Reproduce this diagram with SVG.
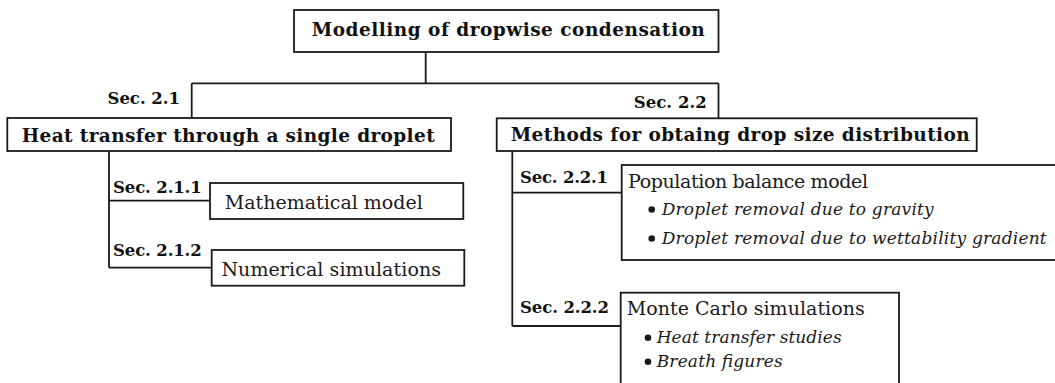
<svg xmlns="http://www.w3.org/2000/svg" width="1055" height="383" viewBox="0 0 1055 383">
<style>
.box{fill:#fff;stroke:#1a1a1a;stroke-width:1.8}
.ln{fill:none;stroke:#1a1a1a;stroke-width:1.8}
.hd{font-family:"DejaVu Serif",serif;font-weight:bold;font-size:18.5px;fill:#111}
.sec{font-family:"DejaVu Serif",serif;font-weight:bold;font-size:16.5px;fill:#111}
.rg{font-family:"DejaVu Serif",serif;font-size:19px;fill:#1a1a1a}
.it{font-family:"DejaVu Serif",serif;font-style:italic;font-size:17px;fill:#1a1a1a}
.bul{fill:#1a1a1a}
</style>
<rect width="1055" height="383" fill="#fff"/>
<g id="connectors">
<path class="ln" d="M425.7 52V83.3M191.7 83.3H718.5M191.7 83.3V118M718.5 83.3V118"/>
<path class="ln" d="M109 151V267.7M109 200.7H210M109 267.7H211.7"/>
<path class="ln" d="M512.3 151V326M512.3 192.7H621.7M512.3 326H620.7"/>
<text class="sec" x="180" y="104" text-anchor="end" textLength="72.5" lengthAdjust="spacing">Sec. 2.1</text>
<text class="sec" x="706.7" y="108" text-anchor="end" textLength="73" lengthAdjust="spacing">Sec. 2.2</text>
<text class="sec" x="113" y="193.3" textLength="88.7" lengthAdjust="spacing">Sec. 2.1.1</text>
<text class="sec" x="113" y="256" textLength="88.7" lengthAdjust="spacing">Sec. 2.1.2</text>
<text class="sec" x="520" y="183.3" textLength="88" lengthAdjust="spacing">Sec. 2.2.1</text>
<text class="sec" x="520" y="313" textLength="89" lengthAdjust="spacing">Sec. 2.2.2</text>
</g>
<g id="root">
<rect class="box" x="294" y="10" width="424.5" height="42"/>
<text class="hd" x="311.7" y="36" textLength="393" lengthAdjust="spacing">Modelling of dropwise condensation</text>
</g>
<g id="heat">
<rect class="box" x="7.3" y="118" width="443.7" height="33"/>
<text class="hd" x="21.7" y="141.5" textLength="413" lengthAdjust="spacing">Heat transfer through a single droplet</text>
</g>
<g id="methods">
<rect class="box" x="496.7" y="118.3" width="480" height="32.7"/>
<text class="hd" x="510.7" y="141" textLength="459" lengthAdjust="spacing">Methods for obtaing drop size distribution</text>
</g>
<g id="math">
<rect class="box" x="210" y="183" width="253.3" height="36"/>
<text class="rg" x="224.8" y="208.5" textLength="198" lengthAdjust="spacing">Mathematical model</text>
</g>
<g id="numerical">
<rect class="box" x="211.7" y="250" width="252.6" height="35.7"/>
<text class="rg" x="221.4" y="275.5" textLength="219.6" lengthAdjust="spacing">Numerical simulations</text>
</g>
<g id="population">
<rect class="box" x="621.7" y="165" width="440" height="95"/>
<text class="rg" x="628" y="187.5" textLength="240" lengthAdjust="spacing">Population balance model</text>
<circle class="bul" cx="651.7" cy="209.5" r="3.3"/>
<text class="it" x="661.7" y="215" textLength="272" lengthAdjust="spacing">Droplet removal due to gravity</text>
<circle class="bul" cx="651.7" cy="238.5" r="3.3"/>
<text class="it" x="661.7" y="244" textLength="385" lengthAdjust="spacing">Droplet removal due to wettability gradient</text>
</g>
<g id="montecarlo">
<rect class="box" x="620.7" y="292.7" width="278.3" height="110"/>
<text class="rg" x="626.7" y="315" textLength="238" lengthAdjust="spacing">Monte Carlo simulations</text>
<circle class="bul" cx="648" cy="337.8" r="3.3"/>
<text class="it" x="656.7" y="343.3" textLength="185" lengthAdjust="spacing">Heat transfer studies</text>
<circle class="bul" cx="648" cy="361.8" r="3.3"/>
<text class="it" x="656.7" y="367.3" textLength="126" lengthAdjust="spacing">Breath figures</text>
</g>
</svg>
